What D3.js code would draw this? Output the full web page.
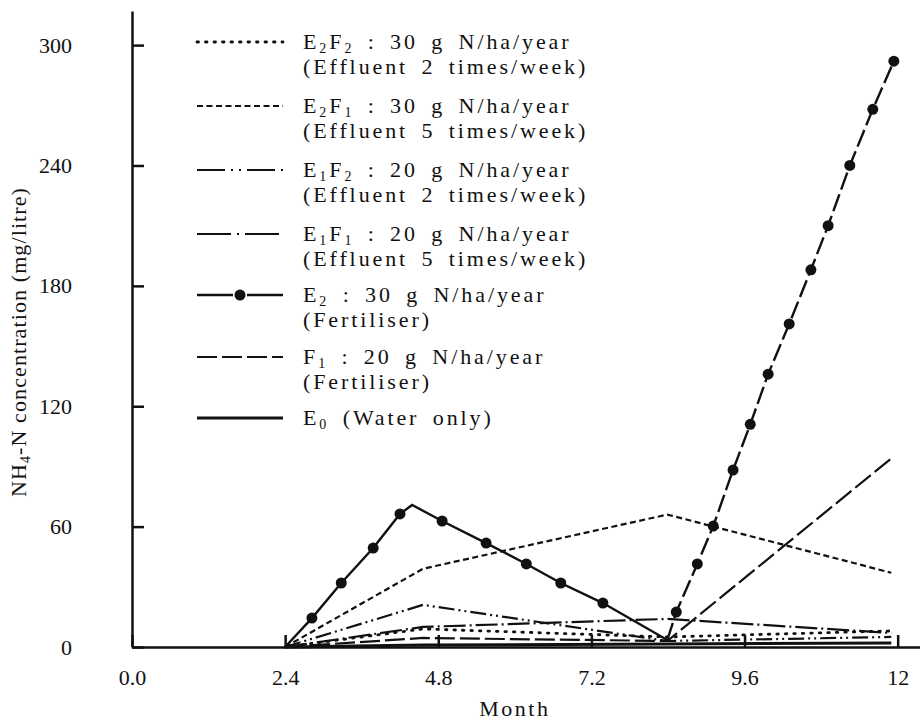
<!DOCTYPE html>
<html>
<head>
<meta charset="utf-8">
<script src="https://cdn.jsdelivr.net/npm/d3@7"></script>
<style>
  body { margin: 0; background: #fff; }
  svg { display: block; }
  text { font-family: "Liberation Serif", "Times New Roman", serif; fill: #111; }
</style>
</head>
<body>
<svg id="chart" width="920" height="721"></svg>
<script>
// sampling months shared by the simple series
const months = [2.4, 4.56, 8.39, 11.9];
const e2f2 = [0, 9, 5, 8];
const e2f1 = [0, 39, 66, 37];
const e1f2 = [0, 21, 3, 5];
const e1f1 = [0, 10, 14, 7];
const f1 = [0, 4.5, 3, 94];
const e0 = [0, 1, 1.5, 2];

// E2 (fertiliser 30) is sampled more often
const e2Months = [2.4, 2.82, 3.28, 3.78, 4.2, 4.39, 4.86, 5.55, 6.18, 6.72, 7.38, 8.39,
  8.53, 8.86, 9.11, 9.42, 9.69, 9.97, 10.3, 10.64, 10.91, 11.25, 11.61, 11.94];
const e2Values = [0, 14.4, 31.9, 49.3, 66.3, 70.8, 62.8, 51.8, 41.4, 31.9, 21.9, 3.5,
  17.4, 41.4, 60.3, 88.2, 111, 136, 161, 188, 210, 240, 268, 292];
const e2Dots = [0, 1, 1, 1, 1, 0, 1, 1, 1, 1, 1, 0, 1, 1, 1, 1, 1, 1, 1, 1, 1, 1, 1, 1];

const xTicks = [0, 2.4, 4.8, 7.2, 9.6, 12];
const xTickLabels = ["0.0", "2.4", "4.8", "7.2", "9.6", "12"];
const yTicks = [0, 60, 120, 180, 240, 300];

const legendTitles = ["E_2F_2 : 30 g N/ha/year", "E_2F_1 : 30 g N/ha/year", "E_1F_2 : 20 g N/ha/year",
  "E_1F_1 : 20 g N/ha/year", "E_2 : 30 g N/ha/year", "F_1 : 20 g N/ha/year", "E_0 (Water only)"];
const legendNotes = ["(Effluent 2 times/week)", "(Effluent 5 times/week)", "(Effluent 2 times/week)",
  "(Effluent 5 times/week)", "(Fertiliser)", "(Fertiliser)", ""];

const svg = d3.select("#chart");
const x = d3.scaleLinear().domain([0, 12.35]).range([132, 920]);
const y = d3.scaleLinear().domain([0, 317]).range([647, 11]);

// axes
const xAxis = d3.axisBottom(x).tickValues(xTicks)
  .tickFormat((d, i) => xTickLabels[i]).tickSizeInner(-12).tickSizeOuter(0).tickPadding(22);
const yAxis = d3.axisLeft(y).tickValues(yTicks)
  .tickFormat(d3.format("d")).tickSizeInner(-12).tickSizeOuter(0).tickPadding(60);

const gx = svg.append("g").attr("transform", "translate(0," + y(0) + ")").call(xAxis);
const gy = svg.append("g").attr("transform", "translate(" + x(0) + ",0)").call(yAxis);
[gx, gy].forEach(g => {
  g.select(".domain").attr("stroke", "#111").attr("stroke-width", 2.5);
  g.selectAll(".tick line").attr("stroke", "#111").attr("stroke-width", 2.5);
  g.selectAll(".tick text").attr("font-size", 22).attr("fill", "#111")
    .style("font-family", "'Liberation Serif', serif");
});

// series styles
const series = [
  { v: e2f2, dash: "1.5,7", w: 2.8, cap: "round" },
  { v: e2f1, dash: "6,3.5", w: 2.2, cap: "butt" },
  { v: e1f2, dash: "16,4,2,4,2,4", w: 2.2, cap: "butt" },
  { v: e1f1, dash: "22,4,2,4", w: 2.2, cap: "butt" },
  { v: null, dash: "18,5", w: 2.4, cap: "butt" },
  { v: f1, dash: "20,5", w: 2.2, cap: "butt" },
  { v: e0, dash: null, w: 3, cap: "butt" }
];

const line = d3.line().x(d => x(d[0])).y(d => y(d[1]));

series.forEach(s => {
  if (!s.v) return;
  svg.append("path")
    .datum(months.map((m, i) => [m, s.v[i]]))
    .attr("d", line)
    .attr("fill", "none")
    .attr("stroke", "#111")
    .attr("stroke-width", s.w)
    .attr("stroke-linecap", s.cap)
    .attr("stroke-dasharray", s.dash);
});

// E2 line: solid up to its low point, dashed on the final rise
const e2Data = e2Months.map((m, i) => [m, e2Values[i], e2Dots[i]]);
const lowIdx = d3.minIndex(e2Values.slice(1)) + 1;
svg.append("path")
  .datum(e2Data.slice(0, lowIdx + 1))
  .attr("d", line)
  .attr("fill", "none")
  .attr("stroke", "#111")
  .attr("stroke-width", 2.4);
svg.append("path")
  .datum(e2Data.slice(lowIdx))
  .attr("d", line)
  .attr("fill", "none")
  .attr("stroke", "#111")
  .attr("stroke-width", 2.4)
  .attr("stroke-dasharray", "18,5");
svg.selectAll(".e2dot")
  .data(e2Data.filter(d => d[2]))
  .enter().append("circle")
  .attr("class", "e2dot")
  .attr("cx", d => x(d[0]))
  .attr("cy", d => y(d[1]))
  .attr("r", 5.5)
  .attr("fill", "#111");

// text with single-character subscripts written as _x
function addRich(sel, str) {
  const parts = str.split(/_(.)/);
  parts.forEach((p, i) => {
    if (i % 2 === 1) {
      sel.append("tspan").attr("font-size", 14).attr("baseline-shift", -3.5).text(p);
    } else if (p.length) {
      sel.append("tspan").text(p);
    }
  });
}

const legendY = [42, 106, 170, 234, 295, 357, 418];
const legend = svg.append("g");
legendTitles.forEach((t, i) => {
  const cy = legendY[i];
  const s = series[i];
  if (i === 4) {
    legend.append("line").attr("x1", 197).attr("x2", 283).attr("y1", cy).attr("y2", cy)
      .attr("stroke", "#111").attr("stroke-width", 2.4).attr("stroke-dasharray", "36,14");
    legend.append("circle").attr("cx", 240).attr("cy", cy).attr("r", 5.5).attr("fill", "#111");
  } else {
    legend.append("line").attr("x1", 197).attr("x2", 283).attr("y1", cy).attr("y2", cy)
      .attr("stroke", "#111").attr("stroke-width", s.w)
      .attr("stroke-linecap", s.cap)
      .attr("stroke-dasharray", i === 2 ? "28,6,2,6,2,6" : i === 3 ? "34,6,2,6" : s.dash);
  }
  const t1 = legend.append("text").attr("x", 303).attr("y", cy + 7)
    .attr("font-size", 22).attr("letter-spacing", 2.9).attr("word-spacing", 5);
  addRich(t1, t);
  if (legendNotes[i]) {
    legend.append("text").attr("x", 303).attr("y", cy + 32)
      .attr("font-size", 22).attr("letter-spacing", 2.9).attr("word-spacing", 5)
      .text(legendNotes[i]);
  }
});

// axis titles
svg.append("text")
  .attr("x", (x(0) + x(12)) / 2).attr("y", 716)
  .attr("text-anchor", "middle").attr("font-size", 22).attr("letter-spacing", 2.5)
  .text("Month");

const yt = svg.append("text")
  .attr("transform", "translate(26,342) rotate(-90)")
  .attr("text-anchor", "middle").attr("font-size", 22).attr("letter-spacing", 1.1);
addRich(yt, "NH_4-N concentration (mg/litre)");
</script>
</body>
</html>
